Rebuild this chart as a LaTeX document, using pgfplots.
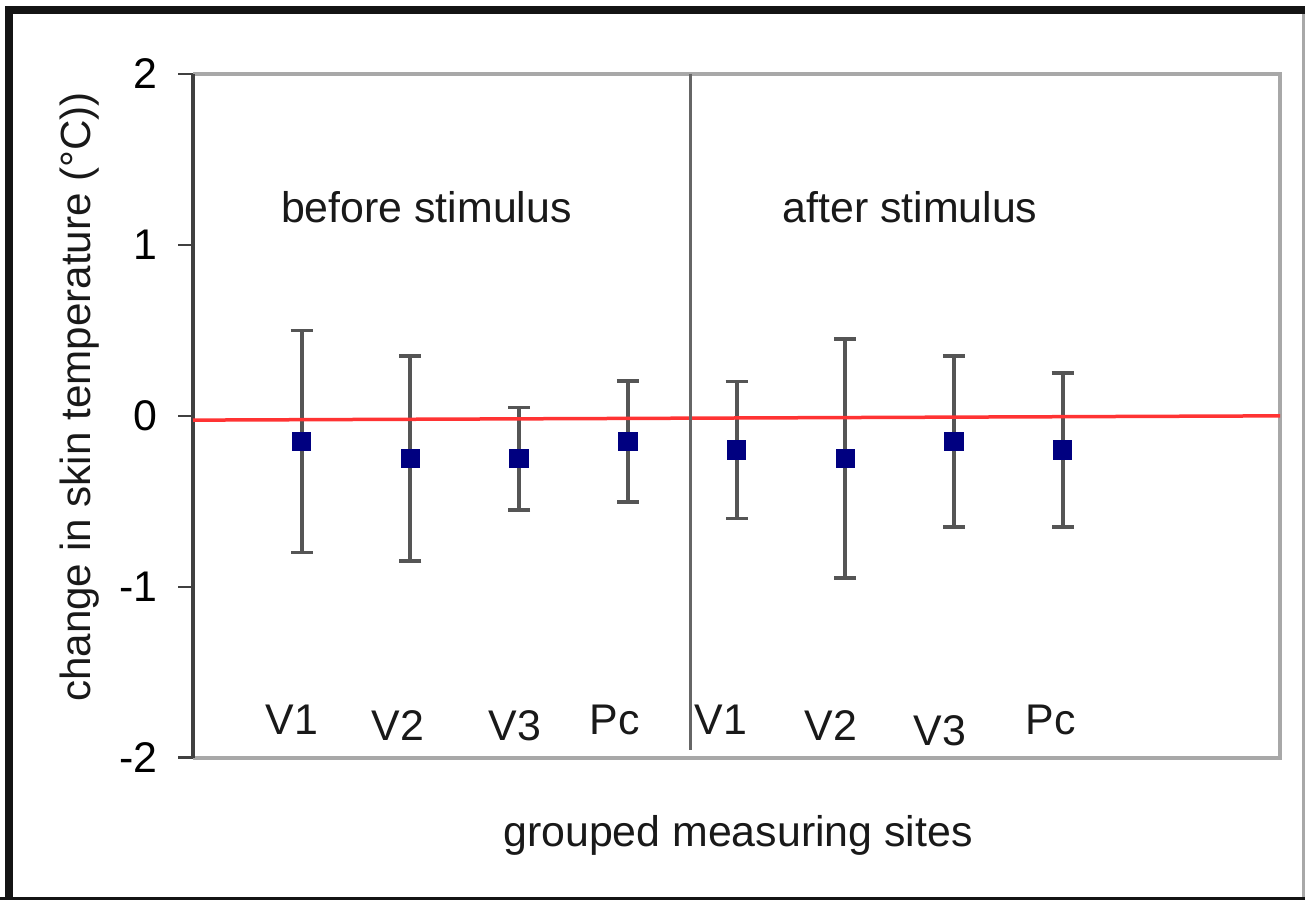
\documentclass[border=0pt]{standalone}
\usepackage{pgfplots}
\pgfplotsset{compat=1.18}
\usepackage{pgfplotstable}
\usepackage{fontspec}
\setmainfont{Liberation Sans}
\definecolor{navy}{HTML}{000080}
\definecolor{ebar}{HTML}{555555}
\definecolor{framegray}{HTML}{A8A8A8}
\definecolor{redline}{HTML}{FF3333}
\pgfplotstableread{
x y e
1 -0.15 0.65
2 -0.25 0.60
3 -0.25 0.30
4 -0.15 0.355
5 -0.20 0.40
6 -0.25 0.70
7 -0.15 0.50
8 -0.20 0.45
}\datatab
\begin{document}
\begin{tikzpicture}
\useasboundingbox (0,0) rectangle (130.5mm,90mm);
\fill[white] (0,0) rectangle (130.5mm,90mm);
% outer frame
\fill[black!92] (0.5mm,0) rectangle (1.3mm,89.4mm);
\fill[black!92] (0.5mm,88.6mm) rectangle (130.5mm,89.4mm);
\fill[black!92] (0,0) rectangle (130.5mm,0.3mm);
\fill[framegray] (130.2mm,0.3mm) rectangle (130.5mm,88.6mm);
\begin{axis}[
  at={(19.3mm,14.23mm)}, anchor=south west, scale only axis,
  width=108.7mm, height=68.37mm,
  xmin=0, xmax=10, ymin=-2, ymax=2,
  axis line style={draw=none},
  xtick=\empty,
  ytick={-2,-1,0,1,2}, yticklabels={-2,-1,0,1,2},
  ytick pos=left, tick align=outside,
  major tick length=1.5mm,
  tick style={color=black!75, line width=0.25mm},
  yticklabel style={font=\fontsize{12.2}{14}\selectfont, anchor=east, inner sep=0pt, xshift=-2mm},
  clip=false,
]
\draw[framegray, line width=0.38mm] (rel axis cs:0,1) -- (rel axis cs:1,1) -- (rel axis cs:1,0) -- (rel axis cs:0,0);
\draw[black!75, line width=0.45mm] (rel axis cs:0,0) -- (rel axis cs:0,1);
\addplot[only marks, mark=square*, mark size=0.9mm, mark options={fill=navy, draw=navy},
  error bars/.cd, y dir=both, y explicit,
  error bar style={ebar, line width=0.4mm},
  error mark options={rotate=90, ebar, mark size=1.1mm, line width=0.35mm}]
  table[x=x, y=y, y error=e] {\datatab};
\addplot[redline, line width=0.35mm] coordinates {(0,-0.025) (10,0)};
\draw[black!60, line width=0.3mm] (axis cs:4.58,2) -- (axis cs:4.58,-1.955);
\begin{scope}[every node/.style={font=\fontsize{12.2}{14}\selectfont, anchor=base, inner sep=0pt, text=black!90}]
\node at (axis cs:2.148,1.134) {before stimulus};
\node at (axis cs:6.596,1.134) {after stimulus};
\node at (axis cs:0.911,-1.867) {V1};
\node at (axis cs:1.886,-1.897) {V2};
\node at (axis cs:2.962,-1.897) {V3};
\node at (axis cs:3.882,-1.867) {Pc};
\node at (axis cs:4.857,-1.867) {V1};
\node at (axis cs:5.869,-1.897) {V2};
\node at (axis cs:6.872,-1.926) {V3};
\node at (axis cs:7.893,-1.867) {Pc};
\end{scope}
\end{axis}
\node[rotate=90, font=\fontsize{12}{14}\selectfont, inner sep=0pt, text=black!90] at (8.0mm,50.3mm) {change in skin temperature (\textdegree C))};
\node[anchor=base, font=\fontsize{12.2}{14}\selectfont, inner sep=0pt, text=black!90] at (73.8mm,5.4mm) {grouped measuring sites};
\end{tikzpicture}
\end{document}
